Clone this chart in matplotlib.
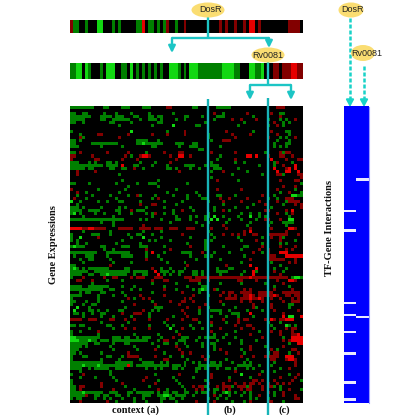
import numpy as np
import matplotlib
matplotlib.use("Agg")
import matplotlib.pyplot as plt
from matplotlib.colors import ListedColormap
from matplotlib.patches import Ellipse

# '.' black, g dark green, G bright green, r dark red, R bright red
strip_dosr = "rgg..g...GG...g.g.....ggR.gg.g.gr..g..r...........r.r..r..r.RR.r.........rrrr"
strip_rv0081 = "ggGG.Gg...g.GGG..gg.G.g.g.g.g.g..GGGg.g.GGGggggggggGGGGgg...GGggG...rr.rrrRRrr"
heat_rows = [
"gggggggg...gg....ggg....ggg.....rr.......gg......ggggg...............rrr......",
"..............................................................................",
"gg..gg.....g...g....g.....g.......g.............r..g.......r.......r..gg......",
"ggggggg...gggg.ggg...gg...gg.gg.......gg....g....ggg.........g........r.......",
"ggggg.....gg..gggggg...g..ggg.g....g..g.........g.....r..r....r...g...g.g..r..",
"gg..g........gg.....g........gg..............g............g.........r..g.g....",
"................g..........g......G.......gg............g.........g..r.g.......",
"..............................................................................",
"g...................G...........g.....r.............r........g.....r....gg.....",
"...g.....rr........r.......r....r.....r.......g.......r.....r........r...g.....",
"...rg...........r.............................g........r..........r...g.g..r...",
"gg.g..................gggg...g.................g...rrr...............g...g......",
"gg.....ggggggggg......ggGgggggg....ggg...gg.........................g...gg.....",
"ggg.......g......g.........gg.......g...ggg.......g.................g.g.g......",
"...........................................gg...................................",
"gg.r........r......r.....g.....r....rr.........r.......r.........g....rgrr.....",
"rr.....r..........r.g..rRRr......r..RR..r.........g........RR.R...r...rr..r....",
"r.......rr.......r....r............r.............g.....r...........R....r...rr.",
"ggg...g.g...gg.g.......g....g....r.............g.......g..g.........gr....g....",
"ggggggggggg.gggg.R...gg....g....g.....gggg...g.ggg.............g....g..r...R...",
"ggggg.gg.....gg..gg..r..g.......gg.g....g..g....ggg.....g...........R...rR.R...",
"..r.....r...........................r..........g...r.......g.........R..RR..R...",
"..r.............g.....................................g.........g....rrg....rr.",
"...............................................g.............................r",
".................g...........g...................r......g.............r....rr..",
"gg....g........g......g...ggg..........g.....................................g.",
"...................g.........g.........................................r...r..",
"r........g........g................g.............r.......r...........r.....g...",
"..r..g..........g...............g.........g...........................g..r...g..",
"..g....g.....g.....g..rg....g.....g....g...g.....gg....g........r...g.....GGgg.",
".r...g.........g...........g.r.........g....gg....r..r.....r......g..g..rrr....",
"G..g.....g..g...gg.....g.......g.....g........g....r.....r.....r.....r..grrrr..",
"..g....................r...rr......g...............g.........g...r.....g...r.r.",
"ggg.g.....g.....g.g......g.....g........g.......g......g...g.......g.........rr",
"gggg..gggg.....gg...r.ggg.........g..r...g......g..r.g...........rr.....r.R...",
"gG.g....g..g....g...g....g.gr..g..g...........g..........g..g..g.....r..g.r...",
"....g.........g............g.......g....g.g..gg.G..g....g...G..g.g.......g....",
"gggggggggggggggggg.....g.g....g....gg...g....g.G.G...g...g....g..rr...r..GG....",
"..........g...g..................g........g...g.....g.......g......g...gggg...g",
"..............g.........r...................g......r.......g......g.....g.....",
"RRRRrrRRrrrr....rrrrr..rrrr.rrr..rrr...rrr.....r....r.......r......r.....RRr...",
"....g........g..........g.....g...............g...........r.R...........r.....",
"g......ggg...g.....g..gg...g.........r.........g...r..r.r.r..rr...rrrrrrr...r.",
"g..G.....r..........g...G.....g.........g.......g.......g.......g..r..rg.......",
"g.g..............g........g.g....g...........g.g.........g....r.......r....g..",
"..g..g.........g.......g...............g.....g..................g.....g.g.....g",
"gGggg.....gg.....ggg...ggg.....g........r....g.....g......gg....r.....r....r..",
"...........g..g..........r.......r...........g...........g.....r..r.....r.r....",
"ggggggggg...gggggggg.....g.R...g.....gggg...r...g....g.......r..g.r...RRR.....",
".g...ggg....g....gggg....g...g..........g....g.g..........g.......rrr...RRRRRR",
"...g..gg.....g...........r....g...........g.......g.........r.....rrrrrr...r...",
"....g.........g.....g...........g.....g..................g.........g.....r.r...",
"gg...........r.........................r............r.......R.........g........",
"gGg.g.ggggggg.....gg.......r..g..g....g..........g...gg.......R.....g...g......",
"gggggg..gggggggggggg.ggggg..R.ggg.g.gg...gg.g....gggg.....g..Rg.....r..g.....",
"gggg..gg..ggGgggggg..g..gg...R.g.g..g....gg.g.....g......g...R........r........",
"g...r......r..rr....r.rrr...rrr.......rrr.rrrrrrrrrrrrrrrrrrRrrrrrrrrrrrr.gGGg",
"..rr...r....g....g.........r...rr.......rrrr..r.........rr....r......r...RRr...",
".......g...................g.......g.......g......g......g.......g.....r......",
"gggg..ggggggg....g...g.........g.......g....gg......................g....g.....",
"ggggggggggg..gg.....g..g.......r...g.....g.gGg..rg........r.r.......r.....r....",
"...g.gg...gg.....g.........g.........r.....g.......r.rr..rrrr..rrrrr...rrrrrr.",
"gggg.....g....g...g....r.......r.........r....g...r..r.r..rrRr.rrrrrRr..rr.rr.",
"g........g.........r.g..r.r...........r.r...........rrrr.rrrRrrRr..r..r...r.r",
"gg...g...g.......g.........g.....r...rr..r........r......r..r...r......r..rrr.",
"g...g..gg............r......r.......r........r.....g.........r.....r.....gg....",
"..G...g...........g.........ggg........r...r..g........g.....rg....r.....g......",
".G....gg.g..g...gg......r..g.g.......r.....g...gggg..g.....g....g...r.......r.",
".gg.g..g..gg.....r...rrr..g...........r....g......g...ggg...R..........r.......",
"....g.....g...g.....g.....g.......g....r.......g....g...g....g.........R.GG..R",
"rrrr..rrr....rr...r..r....r.....r....r...rr........r....r.rr.....r.Rr.rrRRR.",
"..........g........g...........g...........g...r....g...r.........g...g........",
"gg.gg.......gg...g........g.....g.g.....g......g.......r...rr......g....Gg.g...",
"......g.......g...r..r....r......G...r...g..g.....r......r...r......g...r.rr.",
"g..g.....r.........................g...........r.......g.......g...r..r...r.....",
"g........g...........g.......g......r...........g...g.......r.........r...rrR",
"GGgggggggg....ggg.gg..g.ggg...g...r..ggg...g.gggg..g...g........r......g..RRRR",
"GGGgggGgg.ggg.gggggggggggg...g.rr...ggg...g......g.......g....g........r.rRRRR",
"gggggg..gg....g...gg.......g...gg..g..g.....g..gg....g...g...............g..RRr",
"gggg.g.......g.......g.......g.....r...g....g...g...........r....g.....r.......",
"ggg...........g.......g.....r.......r...........g.r......g..r......r.g....rr..",
"gg.g......g........r...........g.....r..r...........r.....g.......g.rr...g..r.",
"g...gg......gg...g.rrrr.....r....g...g......r.g..........r...r...rrrrr..RRR...",
"g.........g.....g......g.......rr......g.....r......g......g.......rr...rRRr..",
"ggggggggggg....gggggg...gggg..g.g.....g..g.g...gg.g...g...g.g.......g......r..",
"ggggGggggGgggggggggRg.ggggggggggg.ggg.g....gggggggg.....ggggg..g...g.......r...",
"gggg..g.ggggg..ggg.......g..g.g...gg.g....gg.g...g..gg.g...g.g........g..r.....",
"...g.........g............................g............r........g...g...........",
"g...r........g..............g.......r..........r.........G.....r.........g..r..",
"...g....g.....g..........r........g......g.....r.....g......g.........r....r...",
"g..............g........r....g.....g.........g.......r.......rr.r...r.....r..g.",
"g.........r......r..........r.......g.........r....r...r..r.rr.r..r..r.r.r.....",
"gg.rr.....r.......g.......g..........g...r.rrg...r.rrrg.rrrgr...r.rrg.g......",
"gg.r..........r......g.......r..g.....g...r.r.g.gg.r.r...r.rr...r.....g..r...g",
"ggggGgggggg..ggg...gg.gggggg.g.gg.gg..gg..g.gg..g..gGg.g..g.g.....r.g..r.....",
"gggggr..gg.gg..gg..g....ggg..ggGGg.gggg..g......r.g..g...g..g..r....g..r...r..",
"g.gg....g..g.g...g...g..g.....gg.gg..g........g..g..g.......g.g...g........rr..",
"...r........r..g.....g...g....g....g......r.....r.....g...g.r.....rr...g.......",
]
dosr_gap_rows = [43, 51, 81, 86, 93, 102, 114, 121]
rv0081_gap_rows = [30, 87]
n_matrix_rows = 123
context_labels = ["context (a)", "(b)", "(c)"]

TEAL = "#1cc5c5"
YEL = "#fadd72"
pal = {".": 0, "g": 1, "G": 2, "r": 3, "R": 4}
cmap = ListedColormap(["#000000", "#007f00", "#12d812", "#820000", "#e60000"])
NC = 78


def encode(rows):
    return np.array([[pal[c] for c in r.ljust(NC, ".")[:NC]] for r in rows])


fig = plt.figure(figsize=(3.99, 4.15), dpi=100)
ax = fig.add_axes([0, 0, 1, 1])
kw = dict(cmap=cmap, vmin=0, vmax=4, aspect="auto", interpolation="nearest")
ax.imshow(encode([strip_dosr]), extent=(70, 303, 33, 20), **kw)
ax.imshow(encode([strip_rv0081]), extent=(70, 303, 79, 63), **kw)
ax.imshow(encode(heat_rows), extent=(70, 303, 403, 107), **kw)

mat = np.zeros((n_matrix_rows, 2))
mat[dosr_gap_rows, 0] = 1
mat[rv0081_gap_rows, 1] = 1
ax.imshow(mat, extent=(344, 368.5, 403, 107), cmap=ListedColormap(["#0000ff", "#e8e8ff"]),
          aspect="auto", interpolation="nearest")
ax.plot([368.5, 368.5], [107, 403], color="#9a9aff", lw=0.8)

ax.set_xlim(0, 399)
ax.set_ylim(415, 0)
ax.axis("off")


def line(xs, ys, z=4, **k):
    ax.plot(xs, ys, color=k.pop("color", TEAL), lw=k.pop("lw", 1.7), solid_capstyle="butt", zorder=z, **k)


def arrow(x, y0, y1):
    ax.annotate("", xy=(x, y1), xytext=(x, y0), zorder=5,
                arrowprops=dict(arrowstyle="-|>,head_width=0.2,head_length=0.4", color=TEAL,
                                lw=1.7, shrinkA=0, shrinkB=0))


def dashed_arrow(x, y0, y1):
    ax.plot([x, x], [y0, y1 - 5], color="#18d2c8", lw=1.8, ls=(0, (1.6, 0.8)), zorder=5)
    ax.annotate("", xy=(x, y1), xytext=(x, y1 - 7), zorder=5,
                arrowprops=dict(arrowstyle="-|>,head_width=0.22,head_length=0.4", color="#18d2c8",
                                lw=1.5, shrinkA=0, shrinkB=0))


line([208, 208], [15, 38])
line([172, 269], [38, 38])
arrow(172, 38, 53)
arrow(269, 38, 48)
line([268, 268], [60, 85])
line([250, 291], [85, 85])
arrow(250, 85, 100)
arrow(291, 85, 100)
line([208, 208], [99, 415], color="#18b4b8")
line([268, 268], [98, 415], color="#18b4b8")

dashed_arrow(350, 18, 107)
dashed_arrow(364, 66, 107)

for cx, cy, w, h, s, tx in [(208, 10, 33, 15, "DosR", 210), (268, 55, 33, 15, "Rv0081", 268),
                            (351, 10, 25, 15, "DosR", 352), (363, 53, 24, 16, "Rv0081", 367)]:
    ax.add_patch(Ellipse((cx, cy), w, h, fc=YEL, ec="none", zorder=6))
    ax.text(tx, cy, s, ha="center", va="center", fontsize=6.5, color="#222222",
            family="Liberation Sans", zorder=7)

serif = dict(family="Liberation Serif", fontweight="bold", color="#111111")
ax.text(53, 245, "Gene Expressions", rotation=90, ha="center", va="center", fontsize=7.5, **serif)
ax.text(329, 228, "TF-Gene Interactions", rotation=90, ha="center", va="center", fontsize=7.5, **serif)
for x, s in zip([135, 230, 284], context_labels):
    ax.text(x, 410, s, ha="center", va="center", fontsize=7.5, **serif)

fig.savefig("out.png", dpi=100)
